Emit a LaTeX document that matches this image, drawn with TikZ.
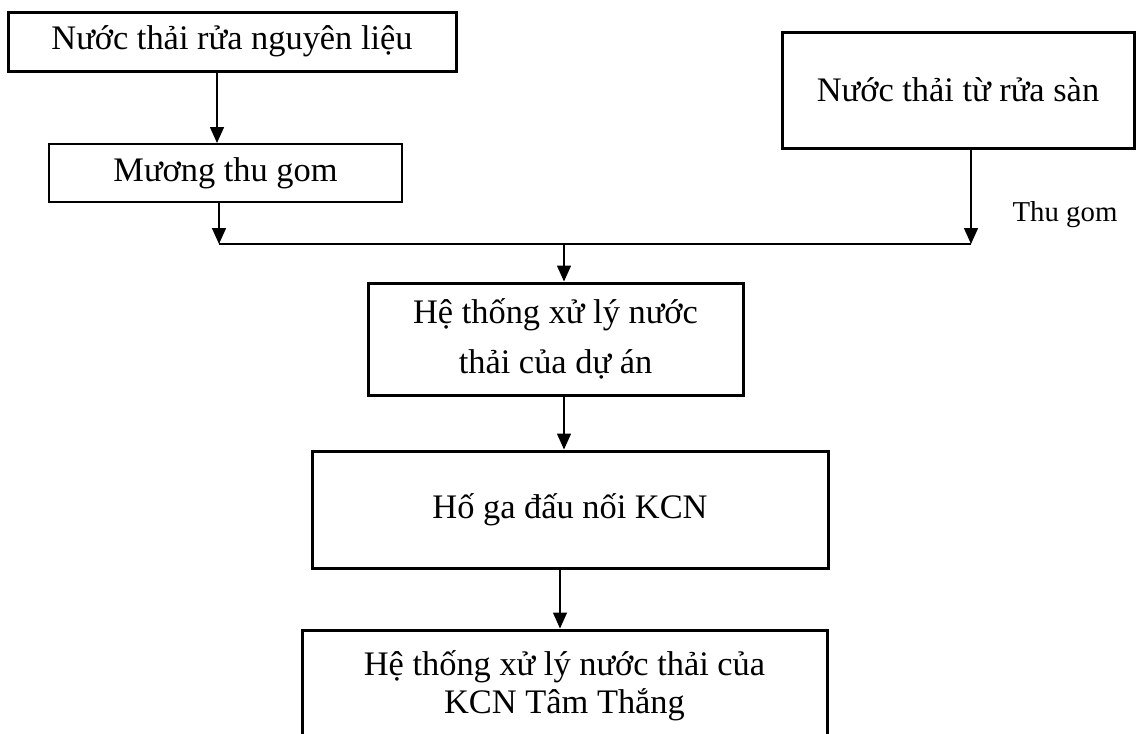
\documentclass[tikz,border=0pt]{standalone}
\usepackage{fontspec}
\setmainfont{Liberation Serif}
\usetikzlibrary{arrows.meta,positioning}
\tikzstyle{box} = [draw,line width=1.5pt,align=center,inner sep=0pt,font=\fontsize{17.2}{25}\selectfont]
\tikzstyle{flow} = [draw,line width=0.75pt,-{Triangle[length=8pt,width=7pt]}]

\begin{document}
\begin{tikzpicture}[x=0.5pt,y=-0.5pt]
   \useasboundingbox (0,0) rectangle (1136,734);
   \node[box,minimum width=224pt,minimum height=29.5pt] (nguyenlieu) at (232,41.5) {Nước thải rửa nguyên liệu};
   \node[box,line width=1pt,minimum width=176.5pt,minimum height=29pt] (muong) at (225.5,173) {Mương thu gom};
   \node[box,minimum width=176pt,minimum height=58pt] (san) at (958,90) {Nước thải từ rửa sàn};
   \node[font=\fontsize{14.4}{16}\selectfont] (thugom) at (1065,215) {Thu gom};
   \node[box,minimum width=187.5pt,minimum height=56pt] (duan) at (555.5,339) {Hệ thống xử lý nước\\thải của dự án};
   \node[box,minimum width=258pt,minimum height=58.5pt] (hoga) at (570,509.5) {Hố ga đấu nối KCN};
   \node[box,font=\fontsize{17.2}{19}\selectfont,minimum width=262.5pt,minimum height=56pt] (kcn) at (564.5,686) {Hệ thống xử lý nước thải của\\KCN Tâm Thắng};

   \coordinate (left) at (219,244);
   \coordinate (right) at (971,244);
   \coordinate (mid) at (564,244);

   \path[flow] ([xshift=-7.5pt]nguyenlieu.south) -- ([xshift=-7.5pt]nguyenlieu.south |- muong.north);
   \path[flow] (left |- muong.south) -- (left);
   \path[flow] (right |- san.south) -- (right);
   \draw[line width=0.75pt] (left) -- (right);
   \path[flow] (mid) -- (mid |- duan.north);
   \path[flow] (mid |- duan.south) -- (mid |- hoga.north);
   \path[flow] ([xshift=-2pt]mid |- hoga.south) -- ([xshift=-2pt]mid |- kcn.north);
\end{tikzpicture}
\end{document}
